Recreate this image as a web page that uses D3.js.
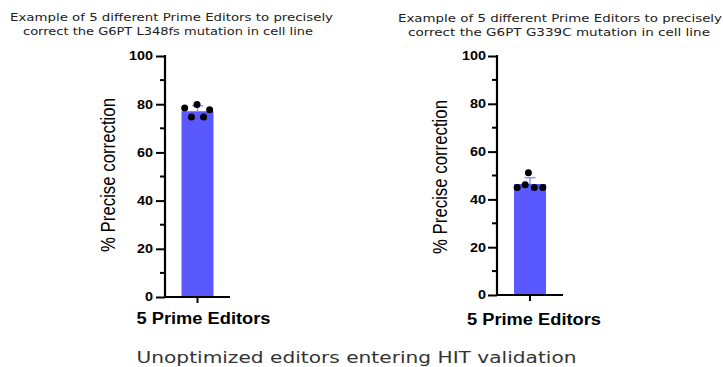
<!DOCTYPE html>
<html><head><meta charset="utf-8">
<script src="https://cdn.jsdelivr.net/npm/d3@7"></script>
<style>body{margin:0;background:#fff}svg{display:block}</style>
</head><body>
<script>
const titlesL348 = ["Example of 5 different Prime Editors to precisely", "correct the G6PT L348fs mutation in cell line"];
const titlesG339 = ["Example of 5 different Prime Editors to precisely", "correct the G6PT G339C mutation in cell line"];
const categories = ["5 Prime Editors"];
const pointsL348 = [78.4, 79.9, 77.7, 74.7, 74.7];
const pointsG339 = [45.0, 46.1, 51.1, 45.0, 45.0];
const jitterL348 = [-0.8, -0.03, 0.76, -0.38, 0.38];
const jitterG339 = [-0.8, -0.3, -0.1, 0.27, 0.8];
const yTicks = [0, 20, 40, 60, 80, 100];
const yMinorTicks = [10, 30, 50, 70, 90];
const yLabel = "% Precise correction";
const footer = "Unoptimized editors entering HIT validation";

const W = 723, H = 367;
const SX = 1.2; // horizontal stretch of the original image
const svg = d3.select("body").append("svg").attr("width", W).attr("height", H);
const barColor = "#5959ff", errColor = "#8f8fff";
const arial = "Liberation Sans, Arial, sans-serif";
const verdana = "DejaVu Sans, Verdana, sans-serif";

function panel(p) {
  const g = svg.append("g");
  const y = d3.scaleLinear().domain([0, 100]).range([p.y0, p.y1]);
  const x = d3.scaleBand().domain(categories).range([p.ax0, p.ax1]).paddingInner(0).paddingOuter(0.25);
  const xc = x(categories[0]) + x.bandwidth() / 2;
  const barW = 32;
  const mean = d3.mean(p.pts), sd = d3.deviation(p.pts);

  g.append("rect").attr("x", xc - barW / 2).attr("y", y(mean))
    .attr("width", barW).attr("height", y(0) - y(mean)).attr("fill", barColor);
  g.append("line").attr("x1", xc).attr("x2", xc).attr("y1", y(mean)).attr("y2", y(mean + sd))
    .attr("stroke", errColor).attr("stroke-width", 1.5);
  g.append("line").attr("x1", xc - 5.5).attr("x2", xc + 5.5).attr("y1", y(mean + sd)).attr("y2", y(mean + sd))
    .attr("stroke", errColor).attr("stroke-width", 1.5);
  g.selectAll("circle.pt").data(p.pts).join("circle")
    .attr("cx", (d, i) => xc + p.jit[i] * barW / 2)
    .attr("cy", d => y(d)).attr("r", 3.5).attr("fill", "#000");

  const ya = g.append("g").attr("transform", `translate(${p.ax0},0)`)
    .call(d3.axisLeft(y).tickValues(yTicks).tickSize(9).tickFormat(d3.format("d")));
  ya.select(".domain").attr("stroke-width", 2.2).attr("d", `M0,${p.y0 + 1}V${p.y1 - 1}`);
  ya.selectAll(".tick line").attr("stroke-width", 2);
  ya.selectAll(".tick text").attr("font-family", arial)
    .attr("font-weight", "bold").attr("font-size", 12).attr("fill", "#000")
    .attr("x", -p.tickGap / SX).attr("transform", `scale(${SX},1)`);
  g.append("g").selectAll("line").data(yMinorTicks).join("line")
    .attr("x1", p.ax0 - 5).attr("x2", p.ax0).attr("y1", d => y(d)).attr("y2", d => y(d))
    .attr("stroke", "#000").attr("stroke-width", 2);

  const xa = g.append("g").attr("transform", `translate(0,${p.y0})`)
    .call(d3.axisBottom(x).tickSize(6).tickFormat(""));
  xa.select(".domain").attr("stroke-width", 2.2).attr("d", `M${p.ax0 - 1},0H${p.ax1}`);
  xa.selectAll(".tick line").attr("stroke-width", 2);

  g.append("text").attr("x", p.xlabX).attr("y", p.xlabY).attr("text-anchor", "middle")
    .attr("font-family", arial).attr("font-weight", "bold")
    .attr("font-size", 16).attr("fill", "#000")
    .attr("textLength", 134).attr("lengthAdjust", "spacingAndGlyphs").text(categories[0]);

  g.append("text").attr("transform", `translate(${p.ylX},${p.ylY}) scale(${SX},1) rotate(-90)`)
    .attr("text-anchor", "middle").attr("font-family", arial)
    .attr("font-size", 16.8).attr("fill", "#000").text(yLabel);

  p.titles.forEach((t, i) => {
    g.append("text").attr("x", p.tX[i]).attr("y", p.tY[i]).attr("text-anchor", "middle")
      .attr("font-family", verdana).attr("font-size", 11)
      .attr("textLength", p.tW[i]).attr("lengthAdjust", "spacingAndGlyphs")
      .attr("fill", "#222").text(t);
  });
}

panel({pts: pointsL348, jit: jitterL348, titles: titlesL348, y0: 297, y1: 56, ax0: 165, ax1: 230,
  tickGap: 12, xlabX: 203.5, xlabY: 323.5, ylX: 114.5, ylY: 175, tX: [171.5, 168], tY: [21, 34.5], tW: [323, 290]});
panel({pts: pointsG339, jit: jitterG339, titles: titlesG339, y0: 295, y1: 56, ax0: 497, ax1: 563,
  tickGap: 11, xlabX: 534, xlabY: 324.5, ylX: 447, ylY: 177, tX: [560, 559], tY: [22, 36], tW: [324, 302]});

svg.append("text").attr("x", 356.5).attr("y", 363).attr("text-anchor", "middle")
  .attr("font-family", verdana).attr("font-size", 16.5)
  .attr("textLength", 440).attr("lengthAdjust", "spacingAndGlyphs")
  .attr("fill", "#333").text(footer);
</script>
</body></html>
